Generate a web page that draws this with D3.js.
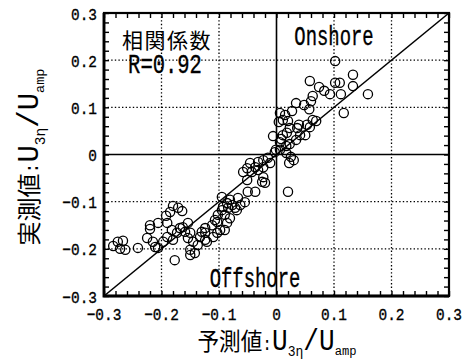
<!DOCTYPE html>
<html>
<head>
<meta charset="utf-8">
<script src="https://cdn.jsdelivr.net/npm/d3@7"></script>
<style>
  html, body { margin: 0; padding: 0; background: #fff; }
  svg { display: block; }
</style>
</head>
<body>
<svg id="chart" width="474" height="360"></svg>
<script>
// Predicted (x) and measured (y) normalised velocity U3η/Uamp
const predicted = [
  0.102, 0.133, 0.058, 0.102, 0.110, 0.133, 0.074, 0.083, 0.093, 0.112,
  0.159, 0.063, 0.060, 0.034, 0.048, 0.057, 0.117, 0.015, 0.027, 0.004,
  0.020, 0.069, 0.039, 0.023, 0.058, 0.050, 0.018, -0.006, 0.008, 0.034,
  0.023, 0.017, -0.001, 0.017, 0.025, 0.022, 0.030, 0.020, 0.006, 0.011,
  0.036, 0.053, 0.063, 0.011, 0.041, 0.006, 0.006, -0.003, -0.015, -0.023,
  -0.032, -0.046, -0.037, -0.051, -0.058, -0.023, -0.011, -0.043, -0.032, -0.023,
  -0.025, -0.051, -0.020, -0.095, -0.067, -0.050, -0.037, -0.077, -0.084, -0.072,
  -0.063, -0.055, -0.095, -0.102, -0.090, -0.103, -0.112, -0.124, -0.154, -0.130,
  -0.133, -0.145, -0.137, -0.154, -0.124, -0.284, -0.276, -0.267, -0.272, -0.263,
  -0.241, -0.225, -0.215, -0.211, -0.206, -0.220, -0.220, -0.206, -0.190, -0.192,
  -0.185, -0.180, -0.171, -0.164, -0.177, -0.197, -0.190, -0.182, -0.180, -0.173,
  -0.168, -0.163, -0.159, -0.150, -0.150, -0.150, -0.142, -0.124, -0.121, -0.110,
  -0.103, -0.098, -0.090, -0.086, -0.107, -0.093, -0.086, -0.081, -0.069, -0.081
];
const measured = [
  0.198, 0.169, 0.156, 0.152, 0.152, 0.145, 0.143, 0.135, 0.128, 0.128,
  0.128, 0.124, 0.113, 0.109, 0.105, 0.096, 0.088, 0.084, 0.092, 0.069,
  0.071, 0.071, 0.063, 0.056, 0.058, 0.041, 0.046, 0.039, 0.033, 0.031,
  0.022, 0.018, 0.010, 0.003, -0.005, -0.018, -0.012, -0.079, 0.088, 0.073,
  0.056, 0.063, 0.073, 0.041, 0.041, 0.026, 0.010, 0.005, -0.007, -0.012,
  -0.016, -0.018, -0.027, -0.029, -0.037, -0.027, -0.018, -0.037, -0.033, -0.048,
  -0.058, -0.054, -0.060, -0.090, -0.092, -0.079, -0.079, -0.107, -0.113, -0.113,
  -0.107, -0.101, -0.118, -0.128, -0.128, -0.143, -0.150, -0.156, -0.145, -0.164,
  -0.175, -0.185, -0.192, -0.177, -0.181, -0.194, -0.185, -0.183, -0.200, -0.202,
  -0.198, -0.177, -0.185, -0.196, -0.198, -0.150, -0.158, -0.145, -0.145, -0.130,
  -0.122, -0.109, -0.113, -0.120, -0.224, -0.185, -0.175, -0.160, -0.181, -0.166,
  -0.156, -0.154, -0.164, -0.166, -0.202, -0.213, -0.209, -0.166, -0.185, -0.175,
  -0.166, -0.160, -0.160, -0.145, -0.139, -0.111, -0.103, -0.096, -0.118, -0.135
];

const domain = [-0.3, 0.3];
const majorTicks = [-0.3, -0.2, -0.1, 0, 0.1, 0.2, 0.3];
const tickText = ["−0.3", "−0.2", "−0.1", "0", "0.1", "0.2", "0.3"];
const gridValues = [-0.2, -0.1, 0.1, 0.2];

const svg = d3.select("#chart");
const plotL = 104, plotR = 449, plotT = 13, plotB = 296;
const x = d3.scaleLinear().domain(domain).range([plotL, plotR]);
const y = d3.scaleLinear().domain(domain).range([plotB, plotT]);

const mono = "'Liberation Mono', 'DejaVu Sans Mono', monospace";
const cjk = "'Noto Sans CJK JP', 'Noto Sans CJK SC', sans-serif";

// dotted grid
const grid = svg.append("g").attr("stroke", "#000").attr("stroke-width", 1.3)
  .attr("stroke-dasharray", "1.4,2.2");
grid.selectAll("line.v").data(gridValues).join("line").attr("class", "v")
  .attr("x1", d => x(d)).attr("x2", d => x(d)).attr("y1", plotT).attr("y2", plotB);
grid.selectAll("line.h").data(gridValues).join("line").attr("class", "h")
  .attr("y1", d => y(d)).attr("y2", d => y(d)).attr("x1", plotL).attr("x2", plotR);

// zero lines
svg.append("line").attr("x1", x(0)).attr("x2", x(0)).attr("y1", plotT).attr("y2", plotB)
  .attr("stroke", "#000").attr("stroke-width", 1.6);
svg.append("line").attr("x1", plotL).attr("x2", plotR).attr("y1", y(0)).attr("y2", y(0))
  .attr("stroke", "#000").attr("stroke-width", 1.6);

// 1:1 line
svg.append("line")
  .attr("x1", x(domain[0])).attr("y1", y(domain[0]))
  .attr("x2", x(domain[1])).attr("y2", y(domain[1]))
  .attr("stroke", "#000").attr("stroke-width", 1.6);

// data points
svg.append("g").selectAll("circle").data(predicted.map((p, i) => [p, measured[i]]))
  .join("circle")
  .attr("cx", d => x(d[0])).attr("cy", d => y(d[1])).attr("r", 4.6)
  .attr("fill", "none").attr("stroke", "#000").attr("stroke-width", 1.3);

// inward minor ticks on all four sides
const minor = d3.range(-15, 16).map(i => i * 0.02);
function tickAxis(axis, tx, ty) {
  const g = svg.append("g").attr("transform", `translate(${tx},${ty})`)
    .call(axis.tickValues(minor).tickSize(-5).tickSizeOuter(0).tickFormat(""));
  g.select(".domain").remove();
  g.selectAll("line").attr("stroke", "#000").attr("stroke-width", 1.4);
}
tickAxis(d3.axisBottom(x), 0, plotB);
tickAxis(d3.axisTop(x), 0, plotT);
tickAxis(d3.axisLeft(y), plotL, 0);
tickAxis(d3.axisRight(y), plotR, 0);

// frame (left and bottom edges drawn slightly heavier)
svg.append("rect").attr("x", plotL).attr("y", plotT)
  .attr("width", plotR - plotL).attr("height", plotB - plotT)
  .attr("fill", "none").attr("stroke", "#000").attr("stroke-width", 2.2);
svg.append("path")
  .attr("d", `M${plotL},${plotT}V${plotB}H${plotR}`)
  .attr("fill", "none").attr("stroke", "#000").attr("stroke-width", 2.8);

// text helper: horizontally condensed label
function label(str, tx, ty, anchor, size, sx, family) {
  return svg.append("text")
    .attr("transform", `translate(${tx},${ty}) scale(${sx},1)`)
    .attr("text-anchor", anchor)
    .attr("font-family", family || mono)
    .attr("font-size", size)
    .attr("fill", "#000")
    .attr("stroke", "#000")
    .attr("stroke-width", 0.35)
    .text(str);
}
majorTicks.forEach((v, i) => {
  label(tickText[i], 97, y(v) + 6.5, "end", 17, 0.85);
  label(tickText[i], x(v), 320, "middle", 17, 0.85);
});

// annotations
label("相関係数", 167, 48, "middle", 21, 1.0, cjk).attr("letter-spacing", 1.5).attr("stroke-width", 0);
label("R=0.92", 165, 73, "middle", 27, 0.76);
label("Onshore", 334, 45, "middle", 27, 0.7);
label("Offshore", 255, 287, "middle", 27, 0.7);

// axis titles
function title(tx, ty, rot, sx, name) {
  const t = svg.append("text")
    .attr("transform", `translate(${tx},${ty}) rotate(${rot}) scale(${sx},1)`)
    .attr("text-anchor", "middle").attr("fill", "#000");
  t.append("tspan").attr("font-family", cjk).attr("font-size", 24).text(name);
  t.append("tspan").attr("font-family", mono).attr("font-size", 18).text(":");
  t.append("tspan").attr("font-family", mono).attr("font-size", 29).text("U");
  t.append("tspan").attr("font-family", mono).attr("font-size", 14.5).attr("dy", 6.5).text("3η");
  t.append("tspan").attr("font-family", mono).attr("font-size", 29).attr("dy", -6.5).text("/U");
  t.append("tspan").attr("font-family", mono).attr("font-size", 13.5).attr("dy", 5.5).text("amp");
  return t;
}
title(277, 349.5, 0, 0.9, "予測値");
title(38, 157, -90, 1.0, "実測値");
</script>
</body>
</html>
